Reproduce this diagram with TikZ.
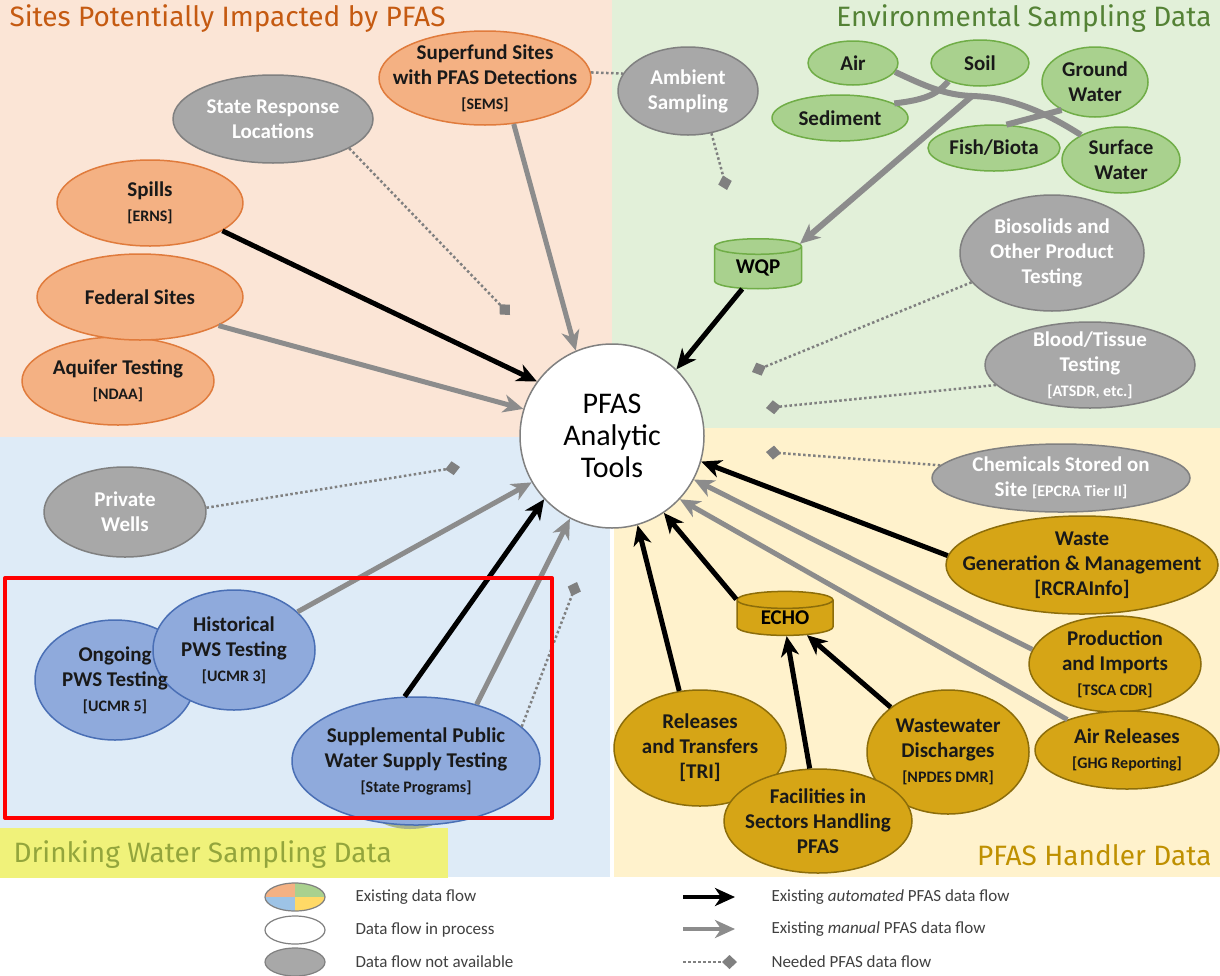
\documentclass[tikz,border=0pt]{standalone}
\usepackage{fontspec}
\setmainfont{Carlito}
\newfontfamily\ttlfont{Fira Sans}
\usepackage{tikz}
\usetikzlibrary{arrows,arrows.meta,shapes.geometric,calc}

\definecolor{bgorng}{HTML}{FBE5D6}
\definecolor{bggrn}{HTML}{E2F0D9}
\definecolor{bgblue}{HTML}{DEEBF7}
\definecolor{bgyel}{HTML}{FFF2CC}
\definecolor{orngfill}{HTML}{F4B183}
\definecolor{orngline}{HTML}{E07B3C}
\definecolor{grnfill}{HTML}{A9D18E}
\definecolor{grnline}{HTML}{70AD47}
\definecolor{bluefill}{HTML}{8FAADC}
\definecolor{blueline}{HTML}{4A6FB5}
\definecolor{goldfill}{HTML}{D6A516}
\definecolor{goldline}{HTML}{8C6D0A}
\definecolor{grayfill}{HTML}{A8A8A8}
\definecolor{grayline}{HTML}{808080}
\definecolor{flowgray}{HTML}{8C8C8C}
\definecolor{ttlorng}{HTML}{C55A11}
\definecolor{ttlgrn}{HTML}{548235}
\definecolor{ttlgold}{HTML}{BF9000}
\definecolor{ttlolive}{HTML}{93A53C}
\definecolor{hilite}{HTML}{F0F27A}
\definecolor{legblue}{HTML}{9DC3E6}
\definecolor{legyel}{HTML}{FFD966}
\definecolor{sliver}{HTML}{A9B48A}

\newcommand{\sm}[1]{{\fontsize{16}{18}\selectfont #1}}

\begin{document}
\begin{tikzpicture}[x=1pt,y=-1pt,>={Stealth[length=20pt,width=18pt,inset=6pt]},
                    line join=round]
  \tikzstyle{oval}=[ellipse,draw,line width=1.5pt,inner sep=0pt]
  \tikzstyle{orng}=[oval,fill=orngfill,draw=orngline]
  \tikzstyle{gry}=[oval,fill=grayfill,draw=grayline]
  \tikzstyle{grn}=[oval,fill=grnfill,draw=grnline]
  \tikzstyle{blu}=[oval,fill=bluefill,draw=blueline]
  \tikzstyle{gold}=[oval,fill=goldfill,draw=goldline]
  \tikzstyle{cyl}=[cylinder,shape border rotate=90,aspect=0.35,draw,line width=1.5pt,inner sep=0pt,
                   font=\bfseries\fontsize{21}{25}\selectfont]
  \tikzstyle{nt}=[align=center,font=\bfseries\fontsize{21}{25}\selectfont,text=black!90]
  \tikzstyle{ntw}=[nt,text=white]
  \tikzstyle{ttl}=[font=\ttlfont\fontsize{28}{32}\selectfont]
  \tikzstyle{legtxt}=[anchor=west,font=\fontsize{17}{20}\selectfont,text=black!75]
  \tikzstyle{autoflow}=[->,line width=5pt,black]
  \tikzstyle{manflow}=[->,line width=5pt,flowgray]
  \tikzstyle{needflow}=[-{Diamond[length=15pt,width=14pt]},line width=2.5pt,grayline,dash pattern=on 2.5pt off 2.5pt]
  \tikzstyle{tube}=[line width=6pt,flowgray]

  \useasboundingbox (0,0) rectangle (1220,975);
  % quadrants
  \fill[white] (0,0) rectangle (1220,975);
  \fill[bgorng] (0,0) rectangle (612,437);
  \fill[bggrn] (612,0) rectangle (1220,428);
  \fill[bgblue] (0,437) rectangle (610,877);
  \fill[bgyel] (614,428) rectangle (1220,877);
  \fill[hilite] (0,828) rectangle (448,878);
  \fill[sliver] (410,805) ellipse (42pt and 24pt);

  \node[ttl,anchor=west,text=ttlorng] (ttlsites) at (6,19) {Sites Potentially Impacted by PFAS};
  \node[ttl,anchor=east,text=ttlgrn] (ttlenv) at (1215,19) {Environmental Sampling Data};
  \node[ttl,anchor=east,text=ttlgold] (ttlhandler) at (1215,855) {PFAS Handler Data};
  \node[ttl,anchor=west,text=ttlolive] (ttldrink) at (10,855) {Drinking Water Sampling Data};

  \node[circle,draw=grayline,line width=1.5pt,fill=white,minimum size=184pt,inner sep=0pt,
        align=center,font=\fontsize{30}{32}\selectfont] (tools) at (612,436) {PFAS\\Analytic\\Tools};

  % sites
  \node[orng,minimum width=192pt,minimum height=88pt,label={[nt]center:Aquifer Testing\\\sm{[NDAA]}}] (aquifer) at (118,381) {};
  \node[orng,minimum width=206pt,minimum height=86pt,label={[nt]center:Federal Sites}] (federal) at (140,297) {};
  \node[orng,minimum width=186pt,minimum height=86pt,label={[nt]center:Spills\\\sm{[ERNS]}}] (spills) at (150,203) {};
  \node[gry,minimum width=200pt,minimum height=88pt,label={[ntw]center:State Response\\Locations}] (stateresp) at (273,119) {};
  \node[orng,minimum width=212pt,minimum height=94pt,label={[nt]center:Superfund Sites\\with PFAS Detections\\\sm{[SEMS]}}] (superfund) at (485,78) {};

  % environmental
  \node[gry,minimum width=140pt,minimum height=88pt,label={[ntw]center:Ambient\\Sampling}] (ambient) at (688,91) {};
  \node[grn,minimum width=90pt,minimum height=44pt,label={[nt]center:Air}] (air) at (853,63) {};
  \node[grn,minimum width=98pt,minimum height=46pt,label={[nt]center:Soil}] (soil) at (980,63) {};
  \node[grn,minimum width=106pt,minimum height=70pt,label={[nt]center:Ground\\Water}] (groundw) at (1095,82) {};
  \node[grn,minimum width=136pt,minimum height=46pt,label={[nt]center:Sediment}] (sediment) at (840,118) {};
  \node[grn,minimum width=132pt,minimum height=46pt,label={[nt]center:Fish/Biota}] (fish) at (994,148) {};
  \node[grn,minimum width=118pt,minimum height=66pt,label={[nt]center:Surface\\Water}] (surfw) at (1121,160) {};
  \node[cyl,fill=grnfill,draw=grnline,minimum width=87pt,minimum height=50pt] (wqp) at (758,268) {WQP};
  \node[gry,minimum width=184pt,minimum height=116pt,label={[ntw]center:Biosolids and\\Other Product\\Testing}] (biosolids) at (1052,253) {};
  \node[gry,minimum width=210pt,minimum height=86pt,label={[ntw]center:Blood/Tissue\\Testing\\\sm{[ATSDR, etc.]}}] (blood) at (1090,365) {};

  % handlers
  \node[gry,minimum width=258pt,minimum height=68pt,label={[ntw]center:Chemicals Stored on\\Site \sm{[EPCRA Tier II]}}] (chemicals) at (1061,478) {};
  \node[gold,minimum width=272pt,minimum height=98pt,label={[nt]center:Waste\\Generation \& Management\\{[RCRAInfo]}}] (waste) at (1082,565) {};
  \node[gold,minimum width=172pt,minimum height=96pt,label={[nt]center:Production\\and Imports\\\sm{[TSCA CDR]}}] (production) at (1115,664) {};
  \node[gold,minimum width=184pt,minimum height=78pt,label={[nt]center:Air Releases\\\sm{[GHG Reporting]}}] (airrel) at (1127,750) {};
  \node[gold,minimum width=172pt,minimum height=116pt,label={[nt]center:Releases\\and Transfers\\{[TRI]}}] (releases) at (700,748) {};
  \node[gold,minimum width=162pt,minimum height=124pt,label={[nt]center:Wastewater\\Discharges\\\sm{[NPDES DMR]}}] (wastewater) at (948,752) {};
  \node[gold,minimum width=188pt,minimum height=104pt,label={[nt]center:Facilities in\\Sectors Handling\\PFAS}] (facilities) at (818,821) {};
  \node[cyl,fill=goldfill,draw=goldline,minimum width=96pt,minimum height=44pt] (echo) at (785,618) {ECHO};

  % drinking water
  \node[gry,minimum width=162pt,minimum height=90pt,label={[ntw]center:Private\\Wells}] (privwells) at (125,512) {};
  \node[blu,minimum width=160pt,minimum height=120pt] (ongoing) at (115,680) {};
  \node[blu,minimum width=162pt,minimum height=120pt,label={[nt]center:Historical\\PWS Testing\\\sm{[UCMR 3]}}] (historical) at (234,650) {};
  \node[nt] (ongoingtxt) at (ongoing) {Ongoing\\PWS Testing\\\sm{[UCMR 5]}};
  \node[blu,minimum width=248pt,minimum height=128pt,label={[nt]center:Supplemental Public\\Water Supply Testing\\\sm{[State Programs]}}] (supplemental) at (416,761) {};

  % needed flows
  \coordinate (dSR) at (510,315);
  \coordinate (dAmb) at (727,190);
  \coordinate (dBio) at (752,372);
  \coordinate (dBlood) at (766,408);
  \coordinate (dChem) at (766,452);
  \coordinate (dPriv) at (460,467);
  \coordinate (dSupp) at (577,582);
  \draw[needflow] (stateresp.-21) -- (dSR);
  \draw[needflow,-] (superfund.3) -- (ambient.165);
  \draw[needflow] (ambient.-61) -- (dAmb);
  \draw[needflow] (biosolids.200) -- (dBio);
  \draw[needflow] (blood.192) -- (dBlood);
  \draw[needflow] (chemicals.174) -- (dChem);
  \draw[needflow] (privwells.3) -- (dPriv);
  \draw[needflow] (supplemental.18) -- (dSupp);

  % sample media into WQP
  \coordinate (hub) at (972,96);
  \draw[tube] (air.-12) .. controls (925,86) and (945,95) .. (hub) .. controls (1010,97) and (1045,112) .. (surfw.148);
  \draw[tube] (soil.-150) .. controls (936,96) and (922,100) .. (sediment.15);
  \draw[tube] (groundw.-140) -- (fish.62);
  \draw[tube,->] (hub) -- (wqp.30);

  % existing flows
  \draw[autoflow] (spills.-21) -- (tools.144);
  \draw[manflow] (federal.-20) -- (tools.163);
  \draw[manflow] (superfund.-58) -- (tools.113);
  \draw[autoflow] (wqp.-127) -- (tools.46);
  \draw[autoflow] (waste.176) -- (tools.-16);
  \draw[manflow] (production.170) -- (tools.-28);
  \draw[manflow] (airrel.153) -- (tools.-43);
  \draw[autoflow] (echo.159) -- (tools.-56);
  \draw[autoflow] (releases.110) -- (tools.-74);
  \draw[autoflow] (facilities.99) -- (echo.-85);
  \draw[autoflow] (wastewater.142) -- (echo.-38);
  \draw[manflow] (historical.31) -- (tools.210);
  \draw[autoflow] (supplemental.100) -- (tools.223);
  \draw[manflow] (supplemental.43) -- (tools.243);

  \draw[red,line width=4pt] (5,578) rectangle (552,818);

  % legend
  \begin{scope}
    \clip (295,897) ellipse (30pt and 14pt);
    \fill[orngfill] (265,883) rectangle (295,897);
    \fill[grnfill] (295,883) rectangle (325,897);
    \fill[legblue] (265,897) rectangle (295,911);
    \fill[legyel] (295,897) rectangle (325,911);
  \end{scope}
  \draw[grayline,line width=1.2pt] (295,897) ellipse (30pt and 14pt);
  \draw[grayline,line width=1.2pt,fill=white] (295,930) ellipse (30pt and 14pt);
  \draw[grayline,line width=1.2pt,fill=grayfill] (295,962) ellipse (30pt and 14pt);
  \node[legtxt] (lg1) at (352,897) {Existing data flow};
  \node[legtxt] (lg2) at (352,930) {Data flow in process};
  \node[legtxt] (lg3) at (352,962) {Data flow not available};

  \coordinate (la1) at (683,897); \coordinate (lb1) at (735,897);
  \coordinate (la2) at (683,929); \coordinate (lb2) at (735,929);
  \coordinate (la3) at (683,962); \coordinate (lb3) at (737,962);
  \draw[autoflow,line width=4pt] (la1) -- (lb1);
  \draw[manflow,line width=4pt] (la2) -- (lb2);
  \draw[needflow] (la3) -- (lb3);
  \node[legtxt] (lg4) at (768,897) {Existing \textit{automated} PFAS data flow};
  \node[legtxt] (lg5) at (768,929) {Existing \textit{manual} PFAS data flow};
  \node[legtxt] (lg6) at (768,962) {Needed PFAS data flow};
\end{tikzpicture}
\end{document}
